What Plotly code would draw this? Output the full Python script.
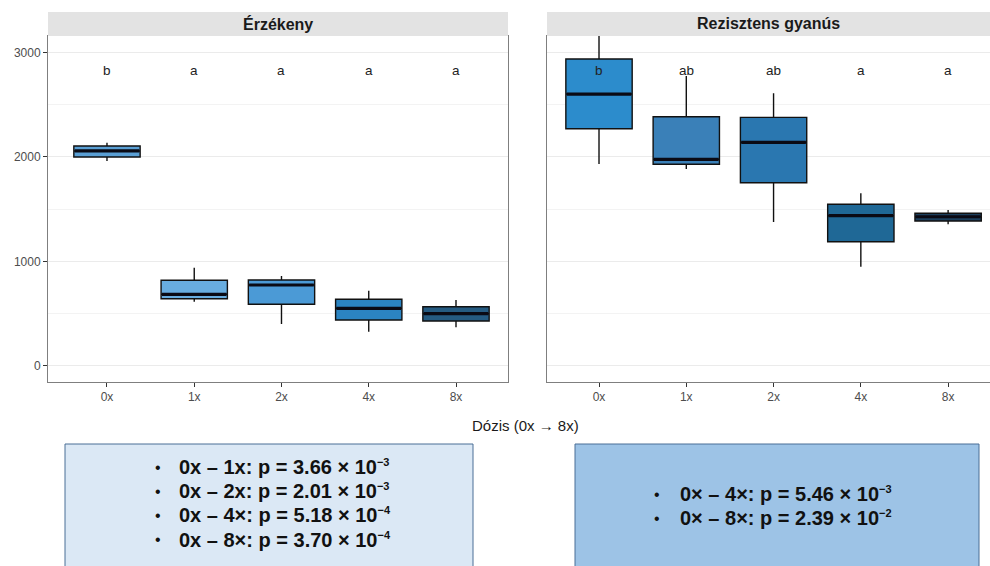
import plotly.graph_objects as go

# ---------------- data ----------------
doses = ["0x", "1x", "2x", "4x", "8x"]
panels = ["Érzékeny", "Rezisztens gyanús"]

erz_low = [1961, 613, 399, 326, 368]
erz_q1 = [1999, 642, 588, 438, 428]
erz_med = [2057, 684, 773, 550, 498]
erz_q3 = [2104, 818, 821, 636, 565]
erz_high = [2136, 939, 859, 718, 629]
erz_letters = ["b", "a", "a", "a", "a"]

rez_low = [1932, 1884, 1376, 948, 1354]
rez_q1 = [2270, 1929, 1753, 1188, 1386]
rez_med = [2602, 1977, 2140, 1437, 1427]
rez_q3 = [2938, 2385, 2379, 1546, 1460]
rez_high = [3320, 2775, 2609, 1651, 1491]
rez_letters = ["b", "ab", "ab", "a", "a"]

erz_fill = ["#5a9fd4", "#68ade0", "#4b9ad6", "#2b84c2", "#255b82"]
rez_fill = ["#2c8ccc", "#3a80b8", "#2a77b0", "#1f6896", "#1c3f5c"]

y_ticks = [0, 1000, 2000, 3000]
letter_y = 2830

left_lines = [
    "0x – 1x: p = 3.66 × 10",
    "0x – 2x: p = 2.01 × 10",
    "0x – 4×: p = 5.18 × 10",
    "0x – 8×: p = 3.70 × 10",
]
left_exps = ["−3", "−3", "−4", "−4"]
right_lines = [
    "0× – 4×: p = 5.46 × 10",
    "0× – 8×: p = 2.39 × 10",
]
right_exps = ["−3", "−2"]
x_title = "Dózis (0x → 8x)"

# ---------------- layout helpers ----------------
W, H = 990, 566
def px(x):
    return x / W
def py(y):
    return 1 - y / H

FONT = "Liberation Sans, Arial, sans-serif"
BOX_W = 0.76

fig = go.Figure()

groups = [
    ("x", "y", erz_low, erz_q1, erz_med, erz_q3, erz_high, erz_fill, erz_letters),
    ("x2", "y2", rez_low, rez_q1, rez_med, rez_q3, rez_high, rez_fill, rez_letters),
]

annotations = []
for xa, ya, lo, q1, med, q3, hi, fills, letters in groups:
    for i, d in enumerate(doses):
        fig.add_trace(go.Box(
            x=[i], q1=[q1[i]], median=[med[i]], q3=[q3[i]],
            lowerfence=[lo[i]], upperfence=[hi[i]],
            width=BOX_W, whiskerwidth=0,
            fillcolor=fills[i], line=dict(color="#111111", width=1.4),
            xaxis=xa, yaxis=ya, showlegend=False, hoverinfo="skip",
            boxpoints=False,
        ))
        fig.add_trace(go.Scatter(
            x=[i - BOX_W / 2 + 0.01, i + BOX_W / 2 - 0.01], y=[med[i], med[i]],
            mode="lines", line=dict(color="#0a0a14", width=3.2),
            xaxis=xa, yaxis=ya, showlegend=False, hoverinfo="skip",
        ))
        annotations.append(dict(
            x=i, y=letter_y, xref=xa, yref=ya, text=letters[i], showarrow=False,
            font=dict(family=FONT, size=13.5, color="#222222"),
            xanchor="center", yanchor="middle",
        ))

# axes
y_range = [-156, 3158]
common_y = dict(range=y_range, tickvals=y_ticks, showgrid=True, gridcolor="#ebebeb",
                gridwidth=1, zeroline=False, showline=True, linecolor="#7f7f7f",
                linewidth=1,
                minor=dict(dtick=500, tick0=0, showgrid=True, gridcolor="#f3f3f3", gridwidth=0.6),
                tickfont=dict(family=FONT, size=12, color="#4d4d4d"))
common_x = dict(tickvals=list(range(len(doses))), ticktext=doses, showgrid=False,
                zeroline=False, showline=True, linecolor="#7f7f7f", linewidth=1,
                mirror=True, ticks="outside", ticklen=4, tickcolor="#333333",
                tickfont=dict(family=FONT, size=12, color="#4d4d4d"))

plot_top, plot_bot = 36, 382
fig.update_layout(
    width=W, height=H, margin=dict(l=0, r=0, t=0, b=0),
    plot_bgcolor="white", paper_bgcolor="white", showlegend=False,
    xaxis=dict(domain=[px(48), px(508)], range=[-0.676, 4.596], anchor="y", **common_x),
    yaxis=dict(domain=[py(plot_bot), py(plot_top)], anchor="x", mirror=True,
               ticks="outside", ticklen=4, tickcolor="#333333", showticklabels=True,
               **common_y),
    xaxis2=dict(domain=[px(547), 1.0], range=[-0.596, 4.48], anchor="y2", **common_x),
    yaxis2=dict(domain=[py(plot_bot), py(plot_top)], anchor="x2", mirror=False,
                ticks="", showticklabels=False, **common_y),
)

shapes = []
# strips
for (x0, x1), title in zip([(48, 508), (547, 990)], panels):
    shapes.append(dict(type="rect", xref="paper", yref="paper",
                       x0=px(x0), x1=px(x1), y0=py(36), y1=py(12),
                       fillcolor="#e3e3e3", line=dict(width=0)))
    annotations.append(dict(x=px((x0 + x1) / 2), y=py(24), xref="paper", yref="paper",
                            text="<b>" + title + "</b>", showarrow=False,
                            font=dict(family=FONT, size=16, color="#1a1a1a"),
                            xanchor="center", yanchor="middle"))

# x axis title
annotations.append(dict(x=px(525), y=py(425), xref="paper", yref="paper", text=x_title,
                        showarrow=False, font=dict(family=FONT, size=15, color="#1a1a1a"),
                        xanchor="center", yanchor="middle"))

# bottom info boxes
shapes.append(dict(type="rect", xref="paper", yref="paper", x0=px(65), x1=px(473),
                   y0=-0.05, y1=py(444), fillcolor="#dbe8f5",
                   line=dict(color="#4a6f96", width=1)))
shapes.append(dict(type="rect", xref="paper", yref="paper", x0=px(575), x1=px(979),
                   y0=-0.05, y1=py(444), fillcolor="#9dc3e6",
                   line=dict(color="#4a6f96", width=1)))

def add_lines(lines, exps, bullet_x, text_x, y_start, step):
    for k, (t, e) in enumerate(zip(lines, exps)):
        yy = y_start + k * step
        annotations.append(dict(x=px(bullet_x), y=py(yy), xref="paper", yref="paper",
                                text="•", showarrow=False,
                                font=dict(family=FONT, size=16, color="#111111"),
                                xanchor="center", yanchor="middle"))
        annotations.append(dict(x=px(text_x), y=py(yy), xref="paper", yref="paper",
                                text="<b>" + t + "<sup><span style='font-size:11px'>" + e
                                     + "</span></sup></b>",
                                showarrow=False,
                                font=dict(family=FONT, size=20, color="#111111"),
                                xanchor="left", yanchor="middle"))

add_lines(left_lines, left_exps, 158, 177, 467, 24.2)
add_lines(right_lines, right_exps, 657, 678, 494, 24.2)

fig.update_layout(shapes=shapes, annotations=annotations)
fig.write_html("out.html")
